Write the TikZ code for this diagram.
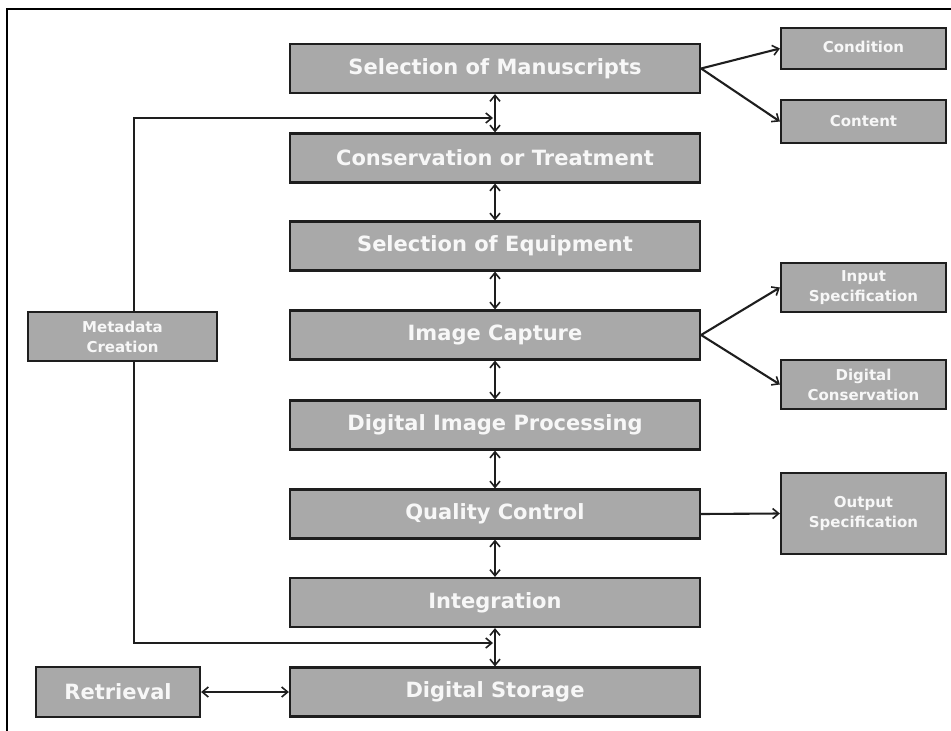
\documentclass[tikz,border=0pt]{standalone}
\usepackage{fontspec}
\setmainfont{DejaVu Sans}
\usetikzlibrary{arrows.meta,positioning}
\definecolor{boxfill}{HTML}{A9A9A9}
\definecolor{boxline}{HTML}{1E1E1E}
\definecolor{boxtext}{HTML}{F7F7F7}
\begin{document}
\begin{tikzpicture}[x=1pt,y=-1pt,
  >={Straight Barb[length=6pt,width=10pt,line width=1.6pt]},
  base/.style={draw=boxline,line width=2.2pt,fill=boxfill,text=boxtext,
    font=\bfseries,inner sep=0pt,align=center},
  mainbox/.style={base,minimum width=410pt,minimum height=49pt,font=\bfseries\fontsize{21}{24}\selectfont},
  sidebox/.style={base,minimum width=165pt,font=\bfseries\fontsize{15}{20}\selectfont},
  link/.style={draw=boxline,line width=2.1pt},
]
\useasboundingbox (0,0) rectangle (951,731);

% page frame (top and left rules)
\draw[line width=2.6pt,black] (7,731) -- (7,9) -- (951,9);

% main workflow column
\node[mainbox] (sel)   at (495,68.5)  {Selection of Manuscripts};
\node[mainbox] (cons)  at (495,158)   {Conservation or Treatment};
\node[mainbox] (equip) at (495,246)   {Selection of Equipment};
\node[mainbox] (cap)   at (495,335)   {Image Capture};
\node[mainbox] (proc)  at (495,425)   {Digital Image Processing};
\node[mainbox] (qc)    at (495,514)   {Quality Control};
\node[mainbox] (integ) at (495,602.5) {Integration};
\node[mainbox] (store) at (495,692)   {Digital Storage};

% side boxes
\node[sidebox,minimum height=41pt] (cond)  at (863.5,48.5)  {\raisebox{3pt}{Condition}};
\node[sidebox,minimum height=43pt] (cont)  at (863.5,121.5) {\raisebox{2pt}{Content}};
\node[sidebox,minimum height=49pt] (inspec) at (863.5,287.5) {Input\\Specification};
\node[sidebox,minimum height=49pt] (dcons) at (863.5,384.5) {Digital\\Conservation};
\node[sidebox,minimum height=81pt] (outspec) at (863.5,513.5) {Output\\Specification};
\node[sidebox,minimum width=189pt,minimum height=49pt] (meta) at (122.5,336.5) {Metadata\\Creation};
\node[mainbox,minimum width=164pt,minimum height=50pt] (retr) at (118,692) {Retrieval};

% two-way links down the column
\foreach \a/\b in {sel/cons,cons/equip,equip/cap,cap/proc,proc/qc,qc/integ,integ/store}
  \draw[link,<->] (\a.south) -- (\b.north);

% branches to the side boxes
\draw[link,->] (sel.east) -- (cond.west);
\draw[link,->] (sel.east) -- (cont.west);
\draw[link,->] (cap.east) -- (inspec.west);
\draw[link,->] (cap.east) -- (dcons.west);
\draw[link,->] (qc.east) -- (outspec.west);
\draw[link,<->] (retr.east) -- (store.west);

% metadata feeds the first and last links
\coordinate (mx) at (134,0);
\coordinate (jtop) at (493,118);
\coordinate (jbot) at (493,643);
\draw[link,->] (meta.north -| mx) |- (jtop);
\draw[link,->] (meta.south -| mx) |- (jbot);
\end{tikzpicture}
\end{document}
